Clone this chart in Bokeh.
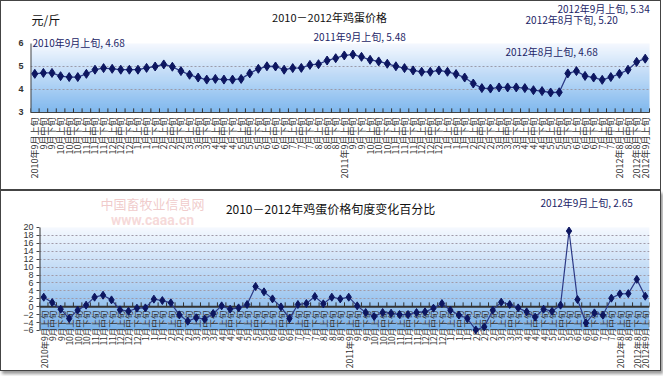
import math
import numpy as np
from bokeh.plotting import figure
from bokeh.layouts import column
from bokeh.models import Range1d, FixedTicker, Label
from bokeh.core.properties import value
from bokeh.embed import file_html
from bokeh.resources import INLINE

periods = [
    "2010年9月上旬", "9月中旬", "9月下旬", "10月上旬", "10月中旬", "10月下旬",
    "11月上旬", "11月中旬", "11月下旬", "12月上旬", "12月中旬", "12月下旬",
    "1月上旬", "1月中旬", "1月下旬", "2月上旬", "2月中旬", "2月下旬",
    "3月上旬", "3月中旬", "3月下旬", "4月上旬", "4月中旬", "4月下旬",
    "5月上旬", "5月中旬", "5月下旬", "6月上旬", "6月中旬", "6月下旬",
    "7月上旬", "7月中旬", "7月下旬", "8月上旬", "8月中旬", "8月下旬",
    "2011年9月上旬", "9月中旬", "9月下旬", "10月上旬", "10月中旬", "10月下旬",
    "11月上旬", "11月中旬", "11月下旬", "12月上旬", "12月中旬", "12月下旬",
    "1月上旬", "1月中旬", "1月下旬", "2月上旬", "2月中旬", "2月下旬",
    "3月上旬", "3月中旬", "3月下旬", "4月上旬", "4月中旬", "4月下旬",
    "5月上旬", "5月中旬", "5月下旬", "6月上旬", "6月中旬", "6月下旬",
    "7月上旬", "7月中旬", "2012年8月上旬", "8月中旬", "2012年8月下旬", "2012年9月上旬",
]

price = [
    4.68, 4.72, 4.72, 4.58, 4.54, 4.54, 4.68, 4.86, 4.93, 4.90, 4.86, 4.86,
    4.86, 4.94, 5.00, 5.09, 4.99, 4.80, 4.64, 4.52, 4.43, 4.46, 4.43, 4.43,
    4.46, 4.70, 4.90, 5.01, 5.00, 4.86, 4.93, 4.94, 5.07, 5.10, 5.26, 5.36,
    5.48, 5.52, 5.42, 5.29, 5.22, 5.12, 5.01, 4.93, 4.83, 4.77, 4.77, 4.83,
    4.77, 4.67, 4.52, 4.26, 4.06, 4.04, 4.09, 4.09, 4.09, 4.06, 3.97, 3.93,
    3.87, 3.88, 4.70, 4.80, 4.59, 4.52, 4.42, 4.54, 4.68, 4.86, 5.20, 5.34,
]

change = [
    2.4, 1.05, -0.63, -3.0, -0.88, 0.38, 2.4, 2.9, 1.72, -0.8, -1.14, -0.38,
    -0.3, 1.9, 1.55, 0.97, -2.06, -3.66, -2.8, -3.16, -1.72, 0.21, -0.63, -0.3,
    0.55, 5.1, 3.75, 1.97, -0.05, -3.0, 0.55, 0.8, 2.57, 0.72, 2.4, 1.97,
    2.4, 0.21, -1.47, -2.48, -1.47, -1.64, -1.98, -1.98, -1.47, -1.3, -0.38, 0.8,
    -0.88, -2.1, -3.0, -5.86, -5.1, -0.88, 1.14, 0.55, -0.3, -1.3, -2.65, -0.63,
    -1.14, 0.38, 19.1, 1.8, -4.1, -1.56, -2.15, 2.15, 3.24, 3.3, 6.9, 2.65,
]

price_ticks = [3, 4, 5, 6]
price_grid = [4, 5]
change_ticks = [-6, -4, -2, 0, 2, 4, 6, 8, 10, 12, 14, 16, 18, 20]
change_grid = [-4, -2, 2, 4, 6, 8, 10, 12, 14, 16, 18]

top_title = "2010－2012年鸡蛋价格"
unit_text = "元/斤"
bottom_title = "2010－2012年鸡蛋价格旬度变化百分比"
notes_top = [
    ("2010年9月上旬, 4.68", -0.27, 6.04),
    ("2011年9月上旬, 5.48", 32.42, 6.30),
    ("2012年9月上旬, 5.34", 60.8, 7.52),
    ("2012年8月下旬, 5.20", 57.08, 7.04),
    ("2012年8月上旬, 4.68", 54.75, 5.65),
]
note_bottom = ("2012年9月上旬, 2.65", 58.64, 26.31)

CJK = "Noto Sans CJK SC"
N = len(periods)
xs = list(range(N))
bounds = [i - 0.5 for i in range(N + 1)]


def gradient(top_rgb, bottom_rgb, n=256):
    t = np.linspace(0.0, 1.0, n)[:, None]
    img = np.zeros((n, 1), dtype=np.uint32)
    v = img.view(dtype=np.uint8).reshape((n, 1, 4))
    for k in range(3):
        v[:, :, k] = (bottom_rgb[k] + (top_rgb[k] - bottom_rgb[k]) * t).astype(np.uint8)
    v[:, :, 3] = 255
    return img


# ---------------- top chart ----------------
# frame spans the whole panel height; the plotting area is 3..6
p1 = figure(width=661, height=190, x_range=Range1d(-0.5, 73.01), y_range=Range1d(-0.435, 7.826),
            output_backend="svg", toolbar_location=None, x_axis_location=None, frame_align=False,
            min_border_left=29, min_border_right=0, min_border_top=0, min_border_bottom=0)
p1.styles = {"border": "1px solid #444"}
p1.outline_line_color = None
p1.background_fill_color = "white"
p1.border_fill_color = "white"
p1.grid.visible = False
p1.image_rgba(image=[gradient((247, 250, 255), (128, 184, 238))], x=-0.5, y=price_ticks[0],
              dw=N, dh=price_ticks[-1] - price_ticks[0], level="image")
p1.segment(x0=[-0.5] * len(price_grid), y0=price_grid, x1=[N - 0.5] * len(price_grid), y1=price_grid,
           line_color="#9a9aa8", line_dash="2 2", line_width=1)

p1.yaxis.ticker = FixedTicker(ticks=price_ticks)
p1.yaxis.major_tick_in = 0
p1.yaxis.major_tick_out = 0
p1.yaxis.minor_tick_line_color = None
p1.yaxis.axis_line_color = None
p1.yaxis.major_label_text_font_size = "9px"
p1.yaxis.major_label_text_font_style = "bold"
p1.yaxis.major_label_text_color = "#333"
p1.yaxis.major_label_standoff = 7
# axis lines of the plotting area
p1.segment(x0=[-0.5], y0=[price_ticks[0]], x1=[-0.5], y1=[price_ticks[-1]], line_color="#444", line_width=2)
p1.segment(x0=[-0.5], y0=[price_ticks[0]], x1=[N - 0.5], y1=[price_ticks[0]], line_color="#444", line_width=1.2)
p1.segment(x0=bounds, y0=[price_ticks[0]] * len(bounds), x1=bounds, y1=[price_ticks[0] + 0.18] * len(bounds),
           line_color="#333", line_width=1)
p1.text(x=xs, y=[price_ticks[0]] * N, text=periods, angle=math.pi / 2, text_align="right",
        text_baseline="middle", y_offset=5, text_font=value(CJK), text_font_size="9px", text_color="#333")

p1.line(xs, price, line_color="#2c3a86", line_width=1.3)
p1.scatter(xs, price, marker="diamond", size=9, color="#0d1660")

p1.add_layout(Label(x=-0.38, y=7.04, text=unit_text, text_font=CJK, text_font_size="12px",
                    text_color="#111", text_baseline="middle", text_align="left"))
p1.add_layout(Label(x=34.28, y=7.17, text=top_title, text_font=CJK, text_font_size="11px",
                    text_color="#111", text_baseline="middle", text_align="center"))
for t, lx, ly in notes_top:
    p1.add_layout(Label(x=lx, y=ly, text=t, text_font=CJK, text_font_size="10px",
                        text_color="#1c2566", text_baseline="middle", text_align="left"))

# ---------------- bottom chart ----------------
p2 = figure(width=661, height=181, x_range=Range1d(-0.5, N - 0.5), y_range=Range1d(-16.62, 29.09),
            output_backend="svg", toolbar_location=None, x_axis_location=None, frame_align=False,
            min_border_left=38, min_border_right=13, min_border_top=0, min_border_bottom=0)
p2.styles = {"border": "1px solid #444", "box-shadow": "2px 3px 3px #999"}
p2.outline_line_color = None
p2.background_fill_color = "white"
p2.border_fill_color = "white"
p2.image_rgba(image=[gradient((247, 250, 255), (122, 178, 234))], x=-0.5, y=change_ticks[0],
              dw=N, dh=change_ticks[-1] - change_ticks[0], level="image")
p2.xgrid.visible = False
p2.ygrid.ticker = FixedTicker(ticks=change_grid)
p2.ygrid.grid_line_color = "#a09aa8"
p2.ygrid.grid_line_dash = "2 2"

p2.yaxis.ticker = FixedTicker(ticks=change_ticks)
p2.yaxis.major_tick_in = 0
p2.yaxis.major_tick_out = 3
p2.yaxis.major_tick_line_color = "#444"
p2.yaxis.minor_tick_line_color = None
p2.yaxis.axis_line_color = None
p2.yaxis.major_label_text_font_size = "9px"
p2.yaxis.major_label_text_color = "#333"
p2.yaxis.major_label_standoff = 3

p2.segment(x0=[-0.5], y0=[change_ticks[0]], x1=[-0.5], y1=[change_ticks[-1]], line_color="#333", line_width=2)
p2.text(x=xs, y=[0] * N, text=periods, angle=math.pi / 2, text_align="right", text_baseline="middle",
        y_offset=4, text_font=value(CJK), text_font_size="8.5px", text_color="#333")
p2.segment(x0=[-0.5], y0=[0], x1=[N - 0.5], y1=[0], line_color="#333", line_width=2)
p2.segment(x0=bounds, y0=[0] * len(bounds), x1=bounds, y1=[1.1] * len(bounds), line_color="#333", line_width=1)

p2.line(xs, change, line_color="#2c3a86", line_width=1.2)
p2.scatter(xs, change, marker="diamond", size=8, color="#0d1660")

p2.add_layout(Label(x=12.84, y=26.06, text="中国畜牧业信息网", text_font=CJK, text_font_size="13px",
                    text_color="#e6a8a8", text_alpha=0.6, text_baseline="middle", text_align="center"))
p2.add_layout(Label(x=12.84, y=21.9, text="www.caaa.cn", text_font="Roboto", text_font_size="14px",
                    text_font_style="bold", text_color="#f0c0c0", text_alpha=0.6,
                    text_baseline="middle", text_align="center"))
p2.add_layout(Label(x=33.85, y=24.8, text=bottom_title, text_font=CJK, text_font_size="12px",
                    text_color="#111", text_baseline="middle", text_align="center"))
p2.add_layout(Label(x=note_bottom[1], y=note_bottom[2], text=note_bottom[0], text_font=CJK,
                    text_font_size="10px", text_color="#1c2566", text_baseline="middle", text_align="left"))

layout = column(p1, p2, spacing=0)
open("out.html", "w").write(file_html(layout, INLINE))
